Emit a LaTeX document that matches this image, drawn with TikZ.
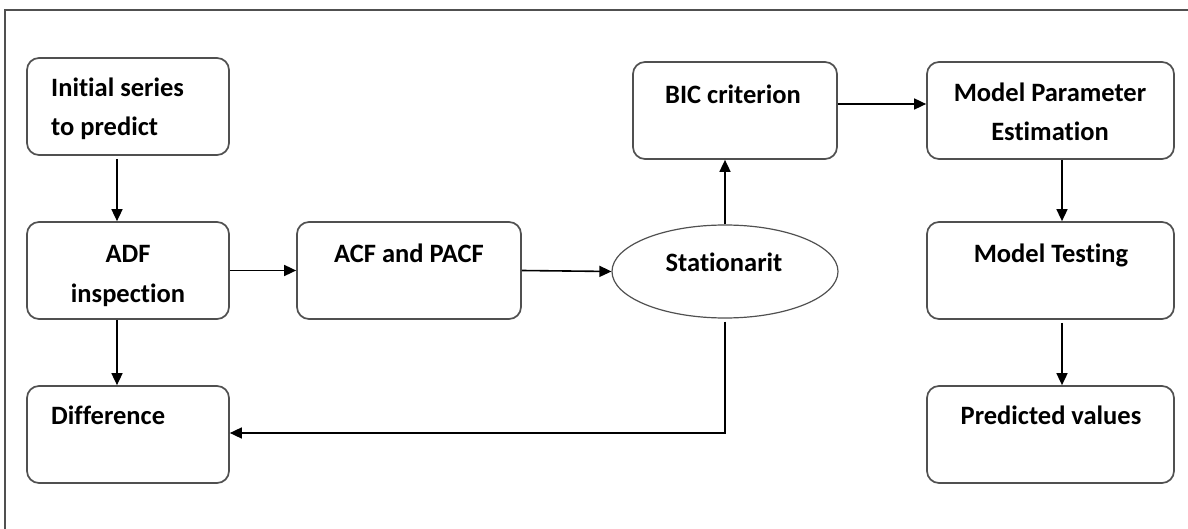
\documentclass[tikz,border=0pt]{standalone}
\usepackage{fontspec}
\setmainfont[Ligatures=NoCommon]{Carlito}
\usetikzlibrary{shapes.geometric,arrows.meta}
\definecolor{boxline}{HTML}{505050}
\tikzset{
  box/.style={draw=boxline, line width=1.7pt, rounded corners=12pt, minimum width=202pt, minimum height=97pt, inner sep=0pt},
  oval/.style={draw=boxline, line width=1.2pt, ellipse, minimum width=226pt, minimum height=93pt, inner sep=0pt},
  lbl/.style={font=\fontsize{26.5}{39}\selectfont\bfseries, inner sep=0pt, anchor=base},
  lbll/.style={lbl, anchor=base west},
  arr/.style={-{Triangle[length=12pt,width=11pt]}, line width=1.6pt, black},
  frame/.style={line width=1.4pt, draw=boxline}
}
\begin{document}
\begin{tikzpicture}[x=1pt,y=-1pt]
\useasboundingbox (0,0) rectangle (1188,529);
\coordinate (fa) at (5,529);
\coordinate (fb) at (5,10);
\coordinate (fc) at (1188,10);
\draw[frame] (fa) -- (fb) -- (fc);
% boxes
\node[box] (init) at (128,106.5) {};
\node[box] (adf) at (128,270.5) {};
\node[box] (diff) at (128,434.5) {};
\node[box, minimum width=224pt] (acf) at (409,270.5) {};
\node[oval] (stat) at (725,271.5) {};
\node[box, minimum width=204pt] (bic) at (735,110.5) {};
\node[box, minimum width=247pt] (mpe) at (1050.5,110.5) {};
\node[box, minimum width=247pt] (mt) at (1050.5,270.5) {};
\node[box, minimum width=247pt] (pv) at (1050.5,434.5) {};
% labels
\node[lbll] (t1) at (51,97) {Initial series};
\node[lbll] (t2) at (51,136) {to predict};
\node[lbl] (t3) at (128,263) {ADF};
\node[lbl] (t4) at (128,302) {inspection};
\node[lbll] (t5) at (51,424) {Difference};
\node[lbl] (t6) at (409,263) {ACF and PACF};
\node[lbl] (t7) at (724,272) {Stationarit};
\node[lbl] (t8) at (733,104) {BIC criterion};
\node[lbl] (t9) at (1050,102) {Model Parameter};
\node[lbl] (t10) at (1050,141) {Estimation};
\node[lbl] (t11) at (1051,263) {Model Testing};
\node[lbl] (t12) at (1051,424) {Predicted values};
% arrows
\draw[arr] ([yshift=-3pt]init.south -| 117,0) -- (adf.north -| 117,0);
\draw[arr] (adf.south -| 117,0) -- (diff.north -| 117,0);
\draw[arr] (adf.east) -- (acf.west);
\draw[arr] (acf.east) -- (stat.west);
\draw[arr] (stat.north) -- (bic.south -| stat.north);
\draw[arr] (bic.east |- 0,104) -- (mpe.west |- 0,104);
\draw[arr] (mpe.south -| 1062,0) -- (mt.north -| 1062,0);
\draw[arr] ([yshift=-3pt]mt.south -| 1062,0) -- (pv.north -| 1062,0);
\coordinate (bend) at (725,433);
\draw[arr] ([yshift=-3pt]stat.south) -- (bend) -- (diff.east |- bend);
\end{tikzpicture}
\end{document}
